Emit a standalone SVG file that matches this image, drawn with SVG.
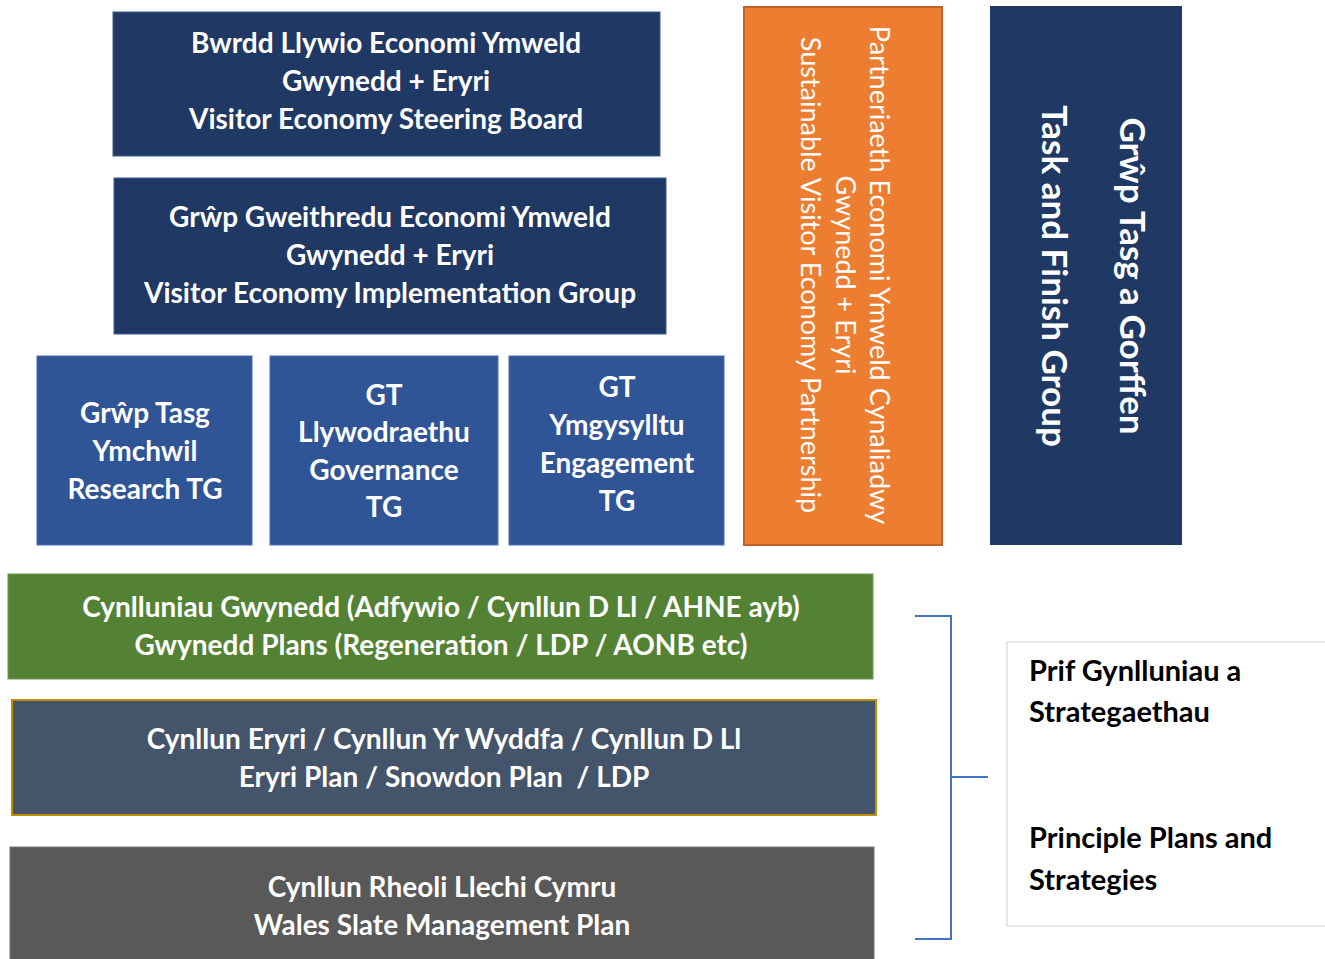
<svg xmlns="http://www.w3.org/2000/svg" width="1325" height="959" viewBox="0 0 1325 959">
<style>
.t{font-family:Lato,"Open Sans","Liberation Sans",sans-serif;font-weight:bold;fill:#fff;text-anchor:middle;font-size:28px}
.r{font-family:Lato,"Open Sans","Liberation Sans",sans-serif;fill:#fff;text-anchor:middle;font-size:27px}
.k{font-family:Lato,"Open Sans","Liberation Sans",sans-serif;font-weight:bold;fill:#000;font-size:29px}
.navy{fill:#203864;stroke:#3b5a94;stroke-width:1}
.blue{fill:#2F5597;stroke:#4a6fb0;stroke-width:1}
</style>
<rect width="1325" height="959" fill="#fff"/>
<g id="steering">
<rect class="navy" x="113" y="12" width="547" height="144"/>
<text class="t" x="386" y="53">Bwrdd Llywio Economi Ymweld</text>
<text class="t" x="386" y="91">Gwynedd + Eryri</text>
<text class="t" x="386" y="129">Visitor Economy Steering Board</text>
</g>
<g id="implementation">
<rect class="navy" x="114" y="178" width="552" height="156"/>
<text class="t" x="390" y="227">Grŵp Gweithredu Economi Ymweld</text>
<text class="t" x="390" y="265">Gwynedd + Eryri</text>
<text class="t" x="390" y="303">Visitor Economy Implementation Group</text>
</g>
<g id="research">
<rect class="blue" x="37" y="356" width="215" height="189"/>
<text class="t" x="145" y="423">Grŵp Tasg</text>
<text class="t" x="145" y="461">Ymchwil</text>
<text class="t" x="145" y="499">Research TG</text>
</g>
<g id="governance">
<rect class="blue" x="270" y="356" width="228" height="189"/>
<text class="t" x="384" y="405">GT</text>
<text class="t" x="384" y="442">Llywodraethu</text>
<text class="t" x="384" y="480">Governance</text>
<text class="t" x="384" y="517">TG</text>
</g>
<g id="engagement">
<rect class="blue" x="509" y="356" width="215" height="189"/>
<text class="t" x="617" y="397">GT</text>
<text class="t" x="617" y="435">Ymgysylltu</text>
<text class="t" x="617" y="473">Engagement</text>
<text class="t" x="617" y="511">TG</text>
</g>
<g id="partnership">
<rect x="744" y="7" width="198" height="538" fill="#ED7D31" stroke="#c0622a" stroke-width="2"/>
<g transform="translate(843 275) rotate(90)">
<text class="r" x="0" y="-27">Partneriaeth Economi Ymweld Cynaliadwy</text>
<text class="r" x="0" y="7">Gwynedd + Eryri</text>
<text class="r" x="0" y="42">Sustainable Visitor Economy Partnership</text>
</g>
</g>
<g id="taskfinish">
<rect x="990" y="6" width="192" height="539" fill="#203864"/>
<g transform="translate(1086 276) rotate(90)">
<text class="t" style="font-size:35px" x="0" y="-34">Grŵp Tasg a Gorffen</text>
<text class="t" style="font-size:35px" x="0" y="44">Task and Finish Group</text>
</g>
</g>
<g id="gwynedd-plans">
<rect x="8" y="574" width="865" height="105" fill="#548235" stroke="#6f9a55" stroke-width="1"/>
<text class="t" x="441" y="617">Cynlluniau Gwynedd (Adfywio / Cynllun D Ll / AHNE ayb)</text>
<text class="t" x="441" y="655">Gwynedd Plans (Regeneration / LDP / AONB etc)</text>
</g>
<g id="eryri-plans">
<rect x="12" y="700" width="864" height="115" fill="#44546A" stroke="#BF9000" stroke-width="2"/>
<text class="t" x="444" y="749">Cynllun Eryri / Cynllun Yr Wyddfa / Cynllun D Ll</text>
<text class="t" x="444" y="787" xml:space="preserve">Eryri Plan / Snowdon Plan  / LDP</text>
</g>
<g id="slate-plan">
<rect x="10" y="847" width="864" height="120" fill="#595959" stroke="#777" stroke-width="1"/>
<text class="t" x="442" y="897">Cynllun Rheoli Llechi Cymru</text>
<text class="t" x="442" y="935">Wales Slate Management Plan</text>
</g>
<g id="connectors" fill="none" stroke="#4472C4" stroke-width="2">
<polyline points="915,616 951,616 951,939 915,939"/>
<line x1="951" y1="777" x2="988" y2="777"/>
</g>
<g id="principal">
<rect x="1007" y="642" width="325" height="284" fill="#fff" stroke="#d0d0d0" stroke-width="1"/>
<text class="k" x="1029" y="681">Prif Gynlluniau a</text>
<text class="k" x="1029" y="722">Strategaethau</text>
<text class="k" x="1029" y="848">Principle Plans and</text>
<text class="k" x="1029" y="890">Strategies</text>
</g>
</svg>
